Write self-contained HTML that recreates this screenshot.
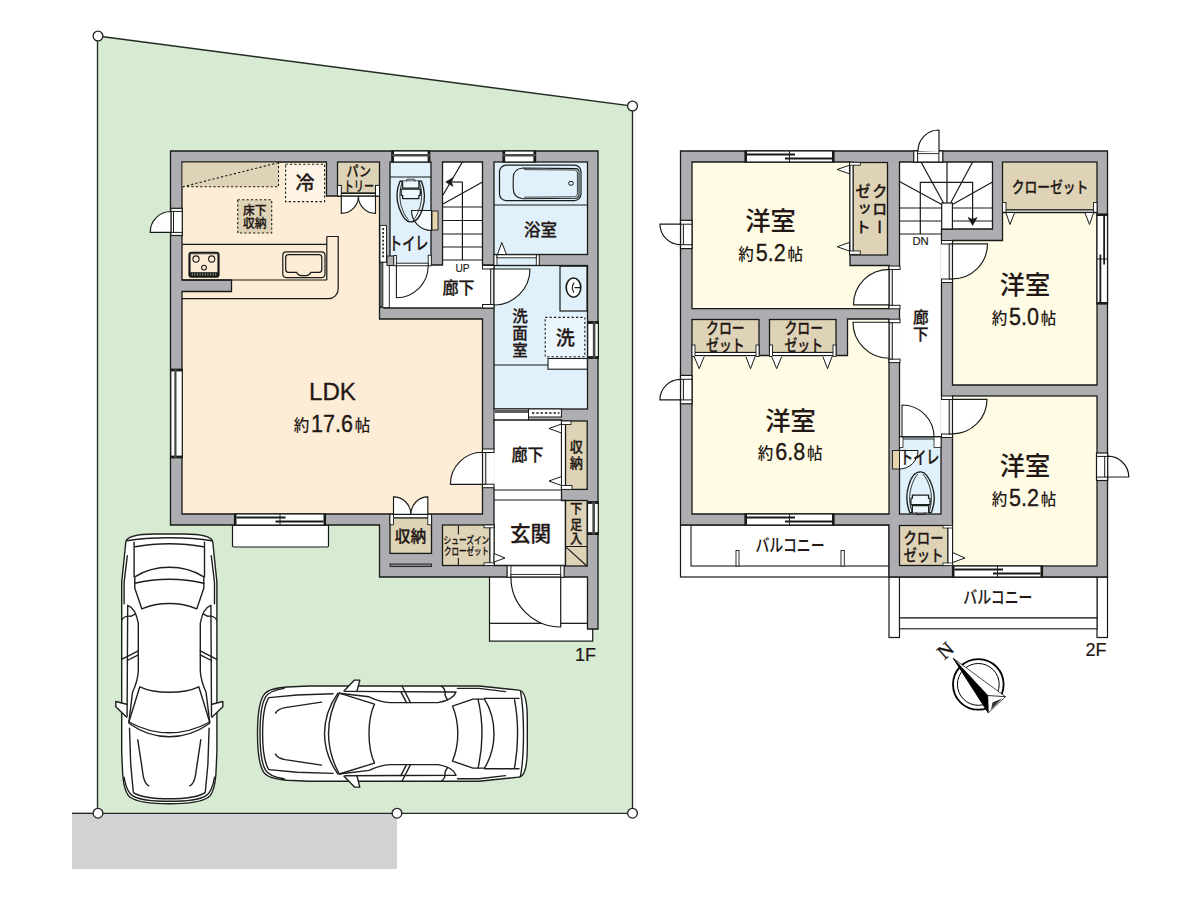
<!DOCTYPE html>
<html lang="ja"><head><meta charset="utf-8"><title>間取り図</title>
<style>html,body{margin:0;padding:0;background:#fff}body{width:1200px;height:900px;overflow:hidden}svg{display:block}</style>
</head><body>
<svg width="1200" height="900" viewBox="0 0 1200 900">
<rect x="72" y="813.4" width="325" height="55.6" fill="#d0d2d4" stroke="none" stroke-width="0" />
<polygon points="97.5,36 632.5,106 632.5,813.3 97.5,813.3" fill="#d6ebd1" stroke="#222c22" stroke-width="1.35" stroke-linejoin="miter" />
<line x1="72" y1="813.3" x2="98" y2="813.3" stroke="#222c22" stroke-width="1.35" />
<g id="f1">
<rect x="232.5" y="525" width="96.0" height="22" fill="#fff" stroke="#171a17" stroke-width="1.2" rx="1.2"/>
<rect x="489.5" y="623.3" width="103.2" height="17.8" fill="#fff" stroke="#171a17" stroke-width="1.2" />
<rect x="489.5" y="576" width="98.5" height="47.3" fill="#fff" stroke="#171a17" stroke-width="1.2" />
<polygon points="170.5,151 598,151 598,629 587.5,629 587.5,577 379.5,577 379.5,525 170.5,525" fill="#aeaeb2" stroke="#171a17" stroke-width="1.3" stroke-linejoin="miter" />
<polygon points="182,162 326.5,162 326.5,196 379.5,196 379.5,319 482.5,319 482.5,514 182,514 182,291.5 231.5,291.5 231.5,280 182,280" fill="#fdecd6" stroke="#171a17" stroke-width="1.3" stroke-linejoin="miter" />
<rect x="182.6" y="162.6" width="95.9" height="24.2" fill="#ded3b6" stroke="none" stroke-width="0" />
<path d="M182.6,186.8 L278.5,186.8 L278.5,162.6 M182.6,186.8 L278.5,162.6" fill="none" stroke="#171a17" stroke-width="1.1" stroke-dasharray="2.2 2.2"/>
<rect x="285.6" y="164.2" width="39.0" height="37.4" fill="#fdf4e6" stroke="#171a17" stroke-width="1.1" stroke-dasharray="2.2 2.2"/>
<rect x="337.5" y="162" width="42.0" height="31" fill="#ded3b6" stroke="#171a17" stroke-width="1.3" />
<rect x="337.5" y="193.5" width="42.0" height="2.5" fill="#fff" stroke="#171a17" stroke-width="1" />
<rect x="337.5" y="185.4" width="3.8" height="10.6" fill="#fff" stroke="#171a17" stroke-width="1" />
<rect x="375.5" y="185.4" width="4.0" height="10.6" fill="#fff" stroke="#171a17" stroke-width="1" />
<path d="M341.3,196 L341.3,213.4 A17.1,17.1 0 0 0 358.4,196.3 Z" fill="#fff" stroke="#171a17" stroke-width="1.15" />
<path d="M375.5,196 L375.5,213.4 A17.1,17.1 0 0 1 358.4,196.3 Z" fill="#fff" stroke="#171a17" stroke-width="1.15" />
<rect x="237.7" y="199.8" width="34.0" height="33.2" fill="#ded3b6" stroke="#171a17" stroke-width="1.1" stroke-dasharray="2.2 2.2"/>
<path d="M182,244.4 L326.8,244.4 M182,280 L326.8,280 M326.8,236.5 L326.8,280" fill="none" stroke="#171a17" stroke-width="1.2" />
<path d="M326.8,236.5 L338.2,236.5 L338.2,289 A9.7,9.7 0 0 1 328.5,298.7 L182,298.7" fill="none" stroke="#171a17" stroke-width="1.2" />
<rect x="189.4" y="252.8" width="29.2" height="24.0" fill="none" stroke="#171a17" stroke-width="2" rx="2"/>
<rect x="190.5" y="254" width="27.0" height="21.6" fill="none" stroke="#555" stroke-width="0.6" rx="1.2"/>
<rect x="190" y="272.2" width="28" height="4.4" fill="#171a17" stroke="none" stroke-width="0" />
<line x1="192.3" y1="273.3" x2="192.3" y2="275.6" stroke="#ccc" stroke-width="0.7" />
<line x1="194.9" y1="273.3" x2="194.9" y2="275.6" stroke="#ccc" stroke-width="0.7" />
<line x1="197.5" y1="273.3" x2="197.5" y2="275.6" stroke="#ccc" stroke-width="0.7" />
<line x1="200.10000000000002" y1="273.3" x2="200.10000000000002" y2="275.6" stroke="#ccc" stroke-width="0.7" />
<line x1="202.70000000000002" y1="273.3" x2="202.70000000000002" y2="275.6" stroke="#ccc" stroke-width="0.7" />
<line x1="205.3" y1="273.3" x2="205.3" y2="275.6" stroke="#ccc" stroke-width="0.7" />
<line x1="207.9" y1="273.3" x2="207.9" y2="275.6" stroke="#ccc" stroke-width="0.7" />
<line x1="210.5" y1="273.3" x2="210.5" y2="275.6" stroke="#ccc" stroke-width="0.7" />
<line x1="213.10000000000002" y1="273.3" x2="213.10000000000002" y2="275.6" stroke="#ccc" stroke-width="0.7" />
<line x1="215.70000000000002" y1="273.3" x2="215.70000000000002" y2="275.6" stroke="#ccc" stroke-width="0.7" />
<circle cx="196" cy="259" r="3.1" fill="none" stroke="#171a17" stroke-width="1.1"/>
<circle cx="211.7" cy="259" r="3.1" fill="none" stroke="#171a17" stroke-width="1.1"/>
<circle cx="204" cy="267.6" r="2.4" fill="none" stroke="#171a17" stroke-width="1.1"/>
<rect x="282.8" y="251.9" width="42.2" height="25.7" fill="none" stroke="#171a17" stroke-width="1.2" rx="3.5"/>
<path d="M288.5,254.6 L319,254.6 Q321.8,254.6 321.8,257.4 L321.8,269.6 Q321.8,272.4 319,272.4 L311,272.4 Q309,275.6 306.5,275.6 L301,275.6 Q298.5,275.6 296.5,272.4 L288.5,272.4 Q285.7,272.4 285.7,269.6 L285.7,257.4 Q285.7,254.6 288.5,254.6 Z" fill="none" stroke="#171a17" stroke-width="1.2" />
<rect x="170.8" y="208.3" width="11.5" height="27.2" fill="#fff" stroke="#171a17" stroke-width="1.2" />
<line x1="170.8" y1="211.4" x2="182.3" y2="211.4" stroke="#171a17" stroke-width="1" />
<line x1="170.8" y1="232.4" x2="182.3" y2="232.4" stroke="#171a17" stroke-width="1" />
<line x1="173.5" y1="211.4" x2="173.5" y2="232.4" stroke="#171a17" stroke-width="1" />
<path d="M171,232.3 L150.2,232.3 A20.8,20.8 0 0 1 171,211.5 Z" fill="#fff" stroke="#171a17" stroke-width="1.2" />
<rect x="170.8" y="369.2" width="11.5" height="88.6" fill="#fff" stroke="#171a17" stroke-width="1.2" />
<rect x="170.8" y="369.2" width="11.5" height="2.2" fill="#171a17" stroke="none" stroke-width="0" />
<rect x="170.8" y="455.6" width="11.5" height="2.2" fill="#171a17" stroke="none" stroke-width="0" />
<line x1="175.4" y1="369.2" x2="175.4" y2="457.8" stroke="#474a47" stroke-width="2.2" />
<rect x="234.5" y="514" width="91.0" height="11" fill="#fff" stroke="#171a17" stroke-width="1.2" />
<rect x="234.5" y="514" width="2.0" height="11" fill="#171a17" stroke="none" stroke-width="0" />
<rect x="323.5" y="514" width="2.0" height="11" fill="#171a17" stroke="none" stroke-width="0" />
<line x1="236.5" y1="517.52" x2="285.5" y2="517.52" stroke="#171a17" stroke-width="1.8" />
<line x1="275.5" y1="521.48" x2="323.5" y2="521.48" stroke="#171a17" stroke-width="1.8" />
<line x1="280.0" y1="514" x2="280.0" y2="525" stroke="#171a17" stroke-width="0.9" />
<rect x="390" y="162" width="41" height="103" fill="#e1f1fb" stroke="#171a17" stroke-width="1.3" />
<line x1="390" y1="177" x2="431" y2="177" stroke="#171a17" stroke-width="1.1" />
<rect x="391.8" y="151" width="38.0" height="11" fill="#fff" stroke="#171a17" stroke-width="1.2" />
<rect x="391.8" y="151" width="2.2" height="11" fill="#171a17" stroke="none" stroke-width="0" />
<rect x="427.6" y="151" width="2.2" height="11" fill="#171a17" stroke="none" stroke-width="0" />
<line x1="391.8" y1="155.18" x2="429.8" y2="155.18" stroke="#474a47" stroke-width="2.5" />
<polygon points="442.5,162 482.5,162 482.5,265 494,265 494,308 384,308 384,265 442.5,265" fill="#fff" stroke="#171a17" stroke-width="1.3" stroke-linejoin="miter" />
<rect x="380" y="225.4" width="6.5" height="36.9" fill="#fff" stroke="#171a17" stroke-width="0.9" />
<line x1="383.1" y1="228" x2="383.1" y2="259" stroke="#171a17" stroke-width="1.6" stroke-dasharray="2 1.9"/>
<rect x="379.8" y="262.3" width="9.5" height="45.3" fill="#fff" stroke="#171a17" stroke-width="0.9" />
<rect x="379.8" y="262.3" width="3.1" height="44.3" fill="#6f6f72" stroke="#171a17" stroke-width="0.8" />
<rect x="387" y="256" width="6.8" height="9.5" fill="#aeaeb2" stroke="#171a17" stroke-width="1" />
<rect x="393.8" y="255.5" width="2.6" height="10.3" fill="#fff" stroke="#171a17" stroke-width="0.9" />
<rect x="428.2" y="255.2" width="3.1" height="10.6" fill="#fff" stroke="#171a17" stroke-width="0.9" />
<rect x="396.4" y="263.2" width="31.8" height="2.6" fill="#fff" stroke="#171a17" stroke-width="0.9" />
<path d="M396.4,265.8 L396.4,297.8 A32,32 0 0 0 428.2,265.8" fill="none" stroke="#171a17" stroke-width="1.1" />
<path d="M411.5,210.5 L431.5,210.5 L431.5,230.5 A20,20 0 0 1 411.5,210.5 Z" fill="#f6fbfe" stroke="#171a17" stroke-width="1.1" />
<rect x="432" y="211" width="6" height="19" fill="#e6d4ae" stroke="#171a17" stroke-width="0.9" />
<g transform="translate(410.75,181.2)" fill="none" stroke="#1d211d" stroke-width="1.35" stroke-linejoin="round" stroke-linecap="round">
<path d="M-10.75,0 C-14.6,9 -14.3,19 -11.7,26.5 C-9,34 -5.5,40.3 -0.5,40.7 C5,41 9.3,36 11.8,27 C14.4,19 14.2,9 10.75,0 Z"/>
<path d="M-8.4,0.4 C-11.6,9 -11.4,18 -9.4,25 C-7.6,31 -5.4,35.5 -2.6,38.2 M8.4,0.4 C11.6,9 11.4,18 9.4,25 C7.6,31 5.6,35.5 3,38.2" stroke-width="0.9"/>
<path d="M-8.2,0 L-8.2,6.9 L8.2,6.9 L8.2,0" fill="#eef7fd"/>
<path d="M-9.6,7.9 L9.6,7.9 L9.6,13.8 L8.1,14.4 L8.1,17.4 L-8.1,17.4 L-8.1,14.4 L-9.6,13.8 Z" fill="#eef7fd"/>
<path d="M-4.4,0 L-3.8,-2 L3.8,-2 L4.4,0" stroke-width="0.8"/>
</g>
<line x1="443" y1="207" x2="482.5" y2="207" stroke="#171a17" stroke-width="1.2" />
<line x1="443" y1="220.5" x2="482.5" y2="220.5" stroke="#171a17" stroke-width="1.2" />
<line x1="443" y1="234" x2="482.5" y2="234" stroke="#171a17" stroke-width="1.2" />
<line x1="443" y1="247" x2="482.5" y2="247" stroke="#171a17" stroke-width="1.2" />
<line x1="443" y1="260" x2="482.5" y2="260" stroke="#171a17" stroke-width="1.2" />
<line x1="462.4" y1="182" x2="462.4" y2="260" stroke="#171a17" stroke-width="1.2" />
<line x1="452" y1="182" x2="462.4" y2="182" stroke="#171a17" stroke-width="1.2" />
<line x1="443" y1="195" x2="462.4" y2="162" stroke="#171a17" stroke-width="1.2" />
<line x1="443" y1="204" x2="482.5" y2="182" stroke="#171a17" stroke-width="1.2" />
<path d="M445.6,182 L453,177.6 L451.6,182 L453,186.4 Z" fill="#171a17" stroke="#171a17" stroke-width="0.5" />
<rect x="494" y="162" width="93.5" height="92.5" fill="#e1f1fb" stroke="#171a17" stroke-width="1.3" />
<rect x="503" y="151" width="32.6" height="11" fill="#fff" stroke="#171a17" stroke-width="1.2" />
<rect x="503" y="151" width="2.2" height="11" fill="#171a17" stroke="none" stroke-width="0" />
<rect x="533.4" y="151" width="2.2" height="11" fill="#171a17" stroke="none" stroke-width="0" />
<line x1="503" y1="155.18" x2="535.6" y2="155.18" stroke="#474a47" stroke-width="2.5" />
<rect x="499.5" y="165.2" width="81.5" height="35.4" fill="none" stroke="#171a17" stroke-width="1.2" rx="6.5"/>
<path d="M523,168 L575.5,168.6 Q579,168.8 579,172 L579,194.5 Q579,198 575.5,198.2 L523,198.8 Q513.2,198 513.2,188 L513.2,178 Q513.2,168.6 523,168 Z" fill="none" stroke="#171a17" stroke-width="1.1" />
<path d="M524,169.6 L574.5,170 Q577.4,170.2 577.4,173 L577.4,193.8 Q577.4,196.6 574.5,196.8 L524,197.2" fill="none" stroke="#171a17" stroke-width="0.8" />
<ellipse cx="571" cy="183.3" rx="2.4" ry="2" fill="none" stroke="#171a17" stroke-width="1"/>
<line x1="494" y1="205" x2="587.5" y2="205" stroke="#171a17" stroke-width="1.2" />
<rect x="494" y="254.5" width="45" height="11.0" fill="#e1f1fb" stroke="#171a17" stroke-width="1.1" />
<rect x="494" y="254.8" width="3" height="11.2" fill="#fff" stroke="#171a17" stroke-width="0.9" />
<rect x="536.3" y="254.8" width="2.9" height="11.2" fill="#fff" stroke="#171a17" stroke-width="0.9" />
<rect x="497" y="254.8" width="39.3" height="3.0" fill="#fff" stroke="#171a17" stroke-width="0.9" />
<path d="M497.5,254.5 L501.8,242.5 L506.5,254.5 Z" fill="#fff" stroke="#171a17" stroke-width="1" />
<rect x="494" y="265.5" width="93.5" height="143.5" fill="#e1f1fb" stroke="#171a17" stroke-width="1.3" />
<rect x="560" y="266.2" width="27" height="44.8" fill="#e1f1fb" stroke="#171a17" stroke-width="1.2" />
<ellipse cx="573.5" cy="287.6" rx="7.3" ry="9.6" fill="#fff" stroke="#171a17" stroke-width="1.6"/>
<path d="M574,282.6 Q570.6,287.6 574,292.6 M574.4,287.6 L580.6,287.6" fill="none" stroke="#171a17" stroke-width="1.1" />
<rect x="545.2" y="317.4" width="39.6" height="39.4" fill="#eaf5fc" stroke="#171a17" stroke-width="1.1" stroke-dasharray="2.2 2.2"/>
<line x1="494" y1="365" x2="548" y2="365" stroke="#171a17" stroke-width="1.2" />
<rect x="548" y="358.5" width="39.3" height="10.7" fill="#fff" stroke="#171a17" stroke-width="1.1" />
<rect x="587.7" y="321.7" width="10.7" height="36.6" fill="#fff" stroke="#171a17" stroke-width="1.2" />
<rect x="587.7" y="321.7" width="10.7" height="2.2" fill="#171a17" stroke="none" stroke-width="0" />
<rect x="587.7" y="356.1" width="10.7" height="2.2" fill="#171a17" stroke="none" stroke-width="0" />
<line x1="594.12" y1="321.7" x2="594.12" y2="358.3" stroke="#474a47" stroke-width="2.6" />
<rect x="481.6" y="265.5" width="12.4" height="42.5" fill="#fff" stroke="none" stroke-width="0" />
<rect x="482.5" y="265.5" width="11.5" height="3.5" fill="#fff" stroke="#171a17" stroke-width="1" />
<rect x="482.5" y="304.5" width="11.5" height="3.5" fill="#fff" stroke="#171a17" stroke-width="1" />
<rect x="490.7" y="269.0" width="3.3" height="35.5" fill="#ececee" stroke="#171a17" stroke-width="1" />
<path d="M494,269 L530,269 A36,36 0 0 1 494,305 Z" fill="#fff" stroke="#171a17" stroke-width="1.15" />
<rect x="494" y="409" width="34.5" height="11.5" fill="#fff" stroke="#171a17" stroke-width="1" />
<rect x="494.6" y="409.8" width="35.9" height="3.2" fill="#5a5c5e" stroke="none" stroke-width="0" />
<rect x="528.5" y="409" width="32.9" height="8" fill="#fff" stroke="#171a17" stroke-width="1" />
<line x1="532" y1="413" x2="559.5" y2="413" stroke="#171a17" stroke-width="1.5" stroke-dasharray="2.4 1.9"/>
<line x1="528.5" y1="417" x2="528.5" y2="420.5" stroke="#171a17" stroke-width="1" />
<polygon points="494,420 561.5,420 561.5,500.5 565.5,500.5 565.5,565.5 494,565.5" fill="#fff" stroke="#171a17" stroke-width="1.3" stroke-linejoin="miter" />
<line x1="494" y1="490" x2="561.5" y2="490" stroke="#171a17" stroke-width="1.1" />
<line x1="494" y1="500" x2="561.5" y2="500" stroke="#171a17" stroke-width="1.1" />
<rect x="561.5" y="421" width="4.0" height="68.4" fill="#fff" stroke="#171a17" stroke-width="1" />
<rect x="565.5" y="421" width="21.7" height="68.4" fill="#ded3b6" stroke="#171a17" stroke-width="1.3" />
<rect x="561.5" y="421" width="9.5" height="3.5" fill="#fff" stroke="#171a17" stroke-width="0.9" />
<rect x="561.5" y="485.5" width="10.5" height="3.9" fill="#fff" stroke="#171a17" stroke-width="0.9" />
<path d="M561.5,424 L549,428.5 L561.5,433 Z" fill="#fff" stroke="#171a17" stroke-width="1" />
<path d="M561.5,476.5 L549,481 L561.5,485.5 Z" fill="#fff" stroke="#171a17" stroke-width="1" />
<rect x="565.5" y="500.5" width="21.7" height="65.5" fill="#ded3b6" stroke="#171a17" stroke-width="1.3" />
<path d="M565.5,546.5 L587.2,546.5 M565.5,546.7 L586.9,566" fill="none" stroke="#171a17" stroke-width="1.1" />
<rect x="587.5" y="501.7" width="10.8" height="32.7" fill="#fff" stroke="#171a17" stroke-width="1.2" />
<rect x="587.5" y="501.7" width="10.8" height="2.2" fill="#171a17" stroke="none" stroke-width="0" />
<rect x="587.5" y="532.1999999999999" width="10.8" height="2.2" fill="#171a17" stroke="none" stroke-width="0" />
<line x1="593.656" y1="501.7" x2="593.656" y2="534.4" stroke="#474a47" stroke-width="2.6" />
<rect x="482.5" y="449" width="12.4" height="38.7" fill="#fff" stroke="none" stroke-width="0" />
<rect x="482.5" y="449" width="11.5" height="3.5" fill="#fff" stroke="#171a17" stroke-width="1" />
<rect x="482.5" y="484.2" width="11.5" height="3.5" fill="#fff" stroke="#171a17" stroke-width="1" />
<rect x="482.5" y="452.5" width="3.3" height="31.7" fill="#ececee" stroke="#171a17" stroke-width="1" />
<path d="M482.5,484.3 L450.4,484.3 A32,32 0 0 1 482.5,452.3 Z" fill="#fff" stroke="#171a17" stroke-width="1.15" />
<rect x="390" y="517.7" width="41.5" height="35.7" fill="#ded3b6" stroke="#171a17" stroke-width="1.3" />
<rect x="390" y="514.5" width="41.5" height="3.3" fill="#fff" stroke="#171a17" stroke-width="1" />
<rect x="390" y="514.3" width="3.5" height="10.5" fill="#fff" stroke="#171a17" stroke-width="0.9" />
<rect x="427.8" y="514.3" width="3.7" height="10.5" fill="#fff" stroke="#171a17" stroke-width="0.9" />
<path d="M393.5,514.3 L393.5,496.9 A17.4,17.4 0 0 1 410.9,514.3 Z" fill="#fff" stroke="#171a17" stroke-width="1.15" />
<path d="M427.8,514.3 L427.8,496.9 A16.9,17.4 0 0 0 410.9,514.3 Z" fill="#fff" stroke="#171a17" stroke-width="1.15" />
<rect x="390" y="564" width="41.5" height="2.6" fill="#858588" stroke="#171a17" stroke-width="0.9" />
<rect x="442.5" y="525" width="47.5" height="40.5" fill="#ded3b6" stroke="#171a17" stroke-width="1.3" />
<line x1="458.4" y1="525.5" x2="458.4" y2="534.5" stroke="#171a17" stroke-width="1.1" />
<line x1="458.4" y1="558" x2="458.4" y2="565.5" stroke="#171a17" stroke-width="1.1" />
<rect x="490" y="525" width="4" height="40.5" fill="#fff" stroke="#171a17" stroke-width="1" />
<rect x="484" y="525" width="10" height="2.8" fill="#fff" stroke="#171a17" stroke-width="0.9" />
<rect x="484" y="562.8" width="10" height="2.7" fill="#fff" stroke="#171a17" stroke-width="0.9" />
<path d="M494,553.5 L505,558 L494,562 Z" fill="#fff" stroke="#171a17" stroke-width="1" />
<rect x="507.2" y="565.8" width="56.8" height="11.4" fill="#fff" stroke="#171a17" stroke-width="1.1" />
<rect x="507.2" y="565.8" width="3.7" height="11.4" fill="#fff" stroke="#171a17" stroke-width="0.9" />
<rect x="560.7" y="565.8" width="3.3" height="11.4" fill="#fff" stroke="#171a17" stroke-width="0.9" />
<rect x="510.9" y="574.4" width="49.8" height="2.8" fill="#fff" stroke="#171a17" stroke-width="0.9" />
<path d="M560.7,577.2 L560.7,627 A49.8,49.8 0 0 1 510.9,577.2 Z" fill="#fff" stroke="#171a17" stroke-width="1.2" />
</g>
<g id="f2">
<rect x="680.5" y="525" width="208.5" height="52" fill="#fff" stroke="#171a17" stroke-width="1.2" />
<rect x="691" y="525" width="198" height="41" fill="#fff" stroke="#171a17" stroke-width="1.1" />
<rect x="736" y="550.5" width="3" height="15.5" fill="#fff" stroke="#171a17" stroke-width="0.9" />
<rect x="841" y="550.5" width="3.3" height="15.5" fill="#fff" stroke="#171a17" stroke-width="0.9" />
<rect x="889" y="577" width="10.5" height="60.5" fill="#fff" stroke="#171a17" stroke-width="1.2" />
<rect x="1097" y="577" width="10.5" height="60.5" fill="#fff" stroke="#171a17" stroke-width="1.2" />
<rect x="899.5" y="577" width="197.5" height="41" fill="#fff" stroke="#171a17" stroke-width="1.1" />
<rect x="899.5" y="618" width="197.5" height="10.8" fill="#fff" stroke="#171a17" stroke-width="1.1" />
<polygon points="680.5,151 1107.5,151 1107.5,577 889,577 889,525 680.5,525" fill="#aeaeb2" stroke="#171a17" stroke-width="1.3" stroke-linejoin="miter" />
<polygon points="692,162 850,162 850,265.5 889,265.5 889,308.6 692,308.6" fill="#fffbe4" stroke="#171a17" stroke-width="1.3" stroke-linejoin="miter" />
<rect x="853" y="162.5" width="34.5" height="92.5" fill="#ded3b6" stroke="#171a17" stroke-width="1.3" />
<rect x="850" y="162" width="3" height="93" fill="#fff" stroke="#171a17" stroke-width="1" />
<rect x="849.5" y="162.3" width="10.8" height="2.9" fill="#fff" stroke="#171a17" stroke-width="0.9" />
<rect x="849.5" y="251" width="10.8" height="3.3" fill="#fff" stroke="#171a17" stroke-width="0.9" />
<path d="M849.5,165.2 L837.2,169.5 L849.5,173.8 Z" fill="#fff" stroke="#171a17" stroke-width="1" />
<path d="M849.5,242.4 L837.2,246.75 L849.5,251 Z" fill="#fff" stroke="#171a17" stroke-width="1" />
<rect x="745" y="151" width="89" height="11" fill="#fff" stroke="#171a17" stroke-width="1.2" />
<rect x="745" y="151" width="2" height="11" fill="#171a17" stroke="none" stroke-width="0" />
<rect x="832" y="151" width="2" height="11" fill="#171a17" stroke="none" stroke-width="0" />
<line x1="747" y1="154.52" x2="795.0" y2="154.52" stroke="#171a17" stroke-width="1.8" />
<line x1="785.0" y1="158.48" x2="832" y2="158.48" stroke="#171a17" stroke-width="1.8" />
<line x1="789.5" y1="151" x2="789.5" y2="162" stroke="#171a17" stroke-width="0.9" />
<rect x="680.5" y="220.3" width="11.5" height="28.3" fill="#fff" stroke="#171a17" stroke-width="1.2" />
<line x1="680.5" y1="224.20000000000002" x2="692" y2="224.20000000000002" stroke="#171a17" stroke-width="1" />
<line x1="680.5" y1="244.7" x2="692" y2="244.7" stroke="#171a17" stroke-width="1" />
<line x1="683.4" y1="224.20000000000002" x2="683.4" y2="244.7" stroke="#171a17" stroke-width="1" />
<path d="M680.5,224.20000000000002 L660.0,224.20000000000002 A20.5,20.5 0 0 0 680.5,244.7 Z" fill="#fff" stroke="#171a17" stroke-width="1.2" />
<polygon points="899.5,162 992.5,162 992.5,229 941.5,229 941.5,437 899.5,437" fill="#fff" stroke="#171a17" stroke-width="1.3" stroke-linejoin="miter" />
<line x1="899.5" y1="208" x2="941.7" y2="208" stroke="#171a17" stroke-width="1.2" />
<line x1="952.4" y1="208" x2="992.5" y2="208" stroke="#171a17" stroke-width="1.2" />
<line x1="899.5" y1="221" x2="941.7" y2="221" stroke="#171a17" stroke-width="1.2" />
<line x1="952.4" y1="221" x2="992.5" y2="221" stroke="#171a17" stroke-width="1.2" />
<line x1="899.5" y1="234" x2="941.5" y2="234" stroke="#171a17" stroke-width="1.2" />
<path d="M920.3,234 L920.3,182.4 L972.6,182.4 L972.6,220" fill="none" stroke="#171a17" stroke-width="1.2" />
<path d="M972.6,225.5 L968,217.4 L972.6,219.2 L977.2,217.4 Z" fill="#171a17" stroke="#171a17" stroke-width="0.5" />
<line x1="941.7" y1="204.5" x2="899.5" y2="181.5" stroke="#171a17" stroke-width="1.2" />
<line x1="943.5" y1="203" x2="921" y2="162" stroke="#171a17" stroke-width="1.2" />
<line x1="947" y1="203" x2="947" y2="162" stroke="#171a17" stroke-width="1.2" />
<line x1="950.6" y1="203" x2="972.6" y2="162" stroke="#171a17" stroke-width="1.2" />
<line x1="952.4" y1="204.5" x2="992.5" y2="182" stroke="#171a17" stroke-width="1.2" />
<rect x="941.7" y="203" width="10.7" height="26" fill="#fff" stroke="#171a17" stroke-width="1.2" />
<rect x="913.8" y="151" width="28.9" height="11" fill="#fff" stroke="#171a17" stroke-width="1.2" />
<rect x="913.8" y="151" width="3.8" height="11" fill="#fff" stroke="#171a17" stroke-width="1" />
<rect x="938.9" y="151" width="3.8" height="11" fill="#fff" stroke="#171a17" stroke-width="1" />
<line x1="917.6" y1="153.6" x2="938.9" y2="153.6" stroke="#171a17" stroke-width="0.9" />
<path d="M939,152 L939,130 A21,21 0 0 0 918,151" fill="#fff" stroke="#171a17" stroke-width="1.2" />
<rect x="889" y="266" width="11.9" height="42.8" fill="#fff" stroke="none" stroke-width="0" />
<rect x="889" y="266" width="11" height="3.5" fill="#fff" stroke="#171a17" stroke-width="1" />
<rect x="889" y="305.3" width="11" height="3.5" fill="#fff" stroke="#171a17" stroke-width="1" />
<rect x="889" y="269.5" width="3.3" height="35.8" fill="#ececee" stroke="#171a17" stroke-width="1" />
<path d="M889,304.8 L853.5,304.8 A35.5,35.5 0 0 1 889,269.3 Z" fill="#fff" stroke="#171a17" stroke-width="1.15" />
<rect x="692" y="319.5" width="67" height="33.0" fill="#ded3b6" stroke="#171a17" stroke-width="1.3" />
<rect x="769.5" y="319.5" width="66.5" height="33.0" fill="#ded3b6" stroke="#171a17" stroke-width="1.3" />
<polygon points="692,355.5 847.5,355.5 847.5,319 889,319 889,514 692,514" fill="#fffbe4" stroke="#171a17" stroke-width="1.3" stroke-linejoin="miter" />
<rect x="692" y="352.5" width="67" height="3.0" fill="#fff" stroke="#171a17" stroke-width="1" />
<rect x="769.5" y="352.5" width="66.5" height="3.0" fill="#fff" stroke="#171a17" stroke-width="1" />
<rect x="692" y="345" width="3" height="11.5" fill="#fff" stroke="#171a17" stroke-width="0.9" />
<rect x="756" y="345" width="3" height="11.5" fill="#fff" stroke="#171a17" stroke-width="0.9" />
<path d="M694.2,356.6 L699.2,368.7 L704.2,356.6" fill="#fff" stroke="#171a17" stroke-width="1" />
<path d="M745.9,356.6 L750.5,368.7 L755.1,356.6" fill="#fff" stroke="#171a17" stroke-width="1" />
<rect x="769.5" y="345" width="3.0" height="11.5" fill="#fff" stroke="#171a17" stroke-width="0.9" />
<rect x="833" y="345" width="3" height="11.5" fill="#fff" stroke="#171a17" stroke-width="0.9" />
<path d="M771.7,356.6 L776.7,368.7 L781.7,356.6" fill="#fff" stroke="#171a17" stroke-width="1" />
<path d="M822.9,356.6 L827.5,368.7 L832.1,356.6" fill="#fff" stroke="#171a17" stroke-width="1" />
<rect x="680.5" y="375.4" width="11.5" height="28.4" fill="#fff" stroke="#171a17" stroke-width="1.2" />
<line x1="680.5" y1="379.29999999999995" x2="692" y2="379.29999999999995" stroke="#171a17" stroke-width="1" />
<line x1="680.5" y1="399.90000000000003" x2="692" y2="399.90000000000003" stroke="#171a17" stroke-width="1" />
<line x1="683.4" y1="379.29999999999995" x2="683.4" y2="399.90000000000003" stroke="#171a17" stroke-width="1" />
<path d="M680.5,399.90000000000003 L659.9,399.90000000000003 A20.6,20.6 0 0 1 680.5,379.29999999999995 Z" fill="#fff" stroke="#171a17" stroke-width="1.2" />
<rect x="745" y="514" width="89" height="11" fill="#fff" stroke="#171a17" stroke-width="1.2" />
<rect x="745" y="514" width="2" height="11" fill="#171a17" stroke="none" stroke-width="0" />
<rect x="832" y="514" width="2" height="11" fill="#171a17" stroke="none" stroke-width="0" />
<line x1="747" y1="517.52" x2="795.0" y2="517.52" stroke="#171a17" stroke-width="1.8" />
<line x1="785.0" y1="521.48" x2="832" y2="521.48" stroke="#171a17" stroke-width="1.8" />
<line x1="789.5" y1="514" x2="789.5" y2="525" stroke="#171a17" stroke-width="0.9" />
<rect x="889" y="319.2" width="11.9" height="43.4" fill="#fff" stroke="none" stroke-width="0" />
<rect x="889" y="319.2" width="11" height="3.5" fill="#fff" stroke="#171a17" stroke-width="1" />
<rect x="889" y="359.1" width="11" height="3.5" fill="#fff" stroke="#171a17" stroke-width="1" />
<rect x="889" y="322.7" width="3.3" height="36.4" fill="#ececee" stroke="#171a17" stroke-width="1" />
<path d="M889,322.2 L853,322.2 A36,36 0 0 0 889,358.2 Z" fill="#fff" stroke="#171a17" stroke-width="1.15" />
<rect x="1002.5" y="162" width="94.5" height="48" fill="#ded3b6" stroke="#171a17" stroke-width="1.3" />
<rect x="1002.5" y="210" width="94.5" height="2.5" fill="#fff" stroke="#171a17" stroke-width="1" />
<rect x="1002.5" y="202.5" width="3.5" height="10.5" fill="#fff" stroke="#171a17" stroke-width="0.9" />
<rect x="1093.5" y="202.5" width="3.5" height="10.5" fill="#fff" stroke="#171a17" stroke-width="0.9" />
<polygon points="1002.5,212.5 1097,212.5 1097,385 952.5,385 952.5,240.5 1002.5,240.5" fill="#fffbe4" stroke="#171a17" stroke-width="1.3" stroke-linejoin="miter" />
<path d="M1006,213 L1010,224.5 L1014.5,213" fill="#fff" stroke="#171a17" stroke-width="1" />
<path d="M1085,213 L1089.5,224.5 L1093.5,213" fill="#fff" stroke="#171a17" stroke-width="1" />
<rect x="1097" y="214" width="10.5" height="90" fill="#fff" stroke="#171a17" stroke-width="1.2" />
<rect x="1097" y="214" width="10.5" height="2" fill="#171a17" stroke="none" stroke-width="0" />
<rect x="1097" y="302" width="10.5" height="2" fill="#171a17" stroke="none" stroke-width="0" />
<line x1="1104.14" y1="216" x2="1104.14" y2="264.5" stroke="#171a17" stroke-width="1.8" />
<line x1="1100.36" y1="254.5" x2="1100.36" y2="302" stroke="#171a17" stroke-width="1.8" />
<line x1="1097" y1="259.0" x2="1107.5" y2="259.0" stroke="#171a17" stroke-width="0.9" />
<rect x="940.6" y="240.5" width="11.9" height="42.0" fill="#fff" stroke="none" stroke-width="0" />
<rect x="941.5" y="240.5" width="11.0" height="3.5" fill="#fff" stroke="#171a17" stroke-width="1" />
<rect x="941.5" y="279.0" width="11.0" height="3.5" fill="#fff" stroke="#171a17" stroke-width="1" />
<rect x="949.2" y="244.0" width="3.3" height="35.0" fill="#ececee" stroke="#171a17" stroke-width="1" />
<path d="M952.5,243.8 L987.5,243.8 A35,35 0 0 1 952.5,278.8 Z" fill="#fff" stroke="#171a17" stroke-width="1.15" />
<rect x="952.5" y="396" width="144.5" height="170" fill="#fffbe4" stroke="#171a17" stroke-width="1.3" />
<rect x="940.6" y="396" width="11.9" height="41.5" fill="#fff" stroke="none" stroke-width="0" />
<rect x="941.5" y="396" width="11.0" height="3.5" fill="#fff" stroke="#171a17" stroke-width="1" />
<rect x="941.5" y="434.0" width="11.0" height="3.5" fill="#fff" stroke="#171a17" stroke-width="1" />
<rect x="949.2" y="399.5" width="3.3" height="34.5" fill="#ececee" stroke="#171a17" stroke-width="1" />
<path d="M952.5,399.3 L987,399.3 A34.5,34.5 0 0 1 952.5,433.8 Z" fill="#fff" stroke="#171a17" stroke-width="1.15" />
<rect x="952.5" y="566" width="90.0" height="11" fill="#fff" stroke="#171a17" stroke-width="1.2" />
<rect x="952.5" y="566" width="2.0" height="11" fill="#171a17" stroke="none" stroke-width="0" />
<rect x="1040.5" y="566" width="2.0" height="11" fill="#171a17" stroke="none" stroke-width="0" />
<line x1="954.5" y1="569.52" x2="1003.0" y2="569.52" stroke="#171a17" stroke-width="1.8" />
<line x1="993.0" y1="573.48" x2="1040.5" y2="573.48" stroke="#171a17" stroke-width="1.8" />
<line x1="997.5" y1="566" x2="997.5" y2="577" stroke="#171a17" stroke-width="0.9" />
<rect x="1096.5" y="453" width="11.2" height="27.5" fill="#fff" stroke="#171a17" stroke-width="1.2" />
<line x1="1096.5" y1="456.4" x2="1107.7" y2="456.4" stroke="#171a17" stroke-width="1" />
<line x1="1096.5" y1="477.1" x2="1107.7" y2="477.1" stroke="#171a17" stroke-width="1" />
<line x1="1104.7" y1="456.4" x2="1104.7" y2="477.1" stroke="#171a17" stroke-width="1" />
<path d="M1107.7,477 L1128.8,477 A21,21 0 0 0 1107.7,456.2 Z" fill="#fff" stroke="#171a17" stroke-width="1.2" />
<rect x="899.5" y="437" width="41.5" height="77" fill="#e1f1fb" stroke="#171a17" stroke-width="1.3" />
<rect x="899.5" y="437" width="3.5" height="10.5" fill="#fff" stroke="#171a17" stroke-width="0.8" />
<rect x="934" y="437" width="7" height="10.5" fill="#fff" stroke="#171a17" stroke-width="0.8" />
<line x1="903" y1="439" x2="934" y2="439" stroke="#171a17" stroke-width="0.9" />
<path d="M902,437 L902,405 A32,32 0 0 1 934,437" fill="none" stroke="#171a17" stroke-width="1.1" />
<rect x="892.5" y="450.5" width="7.0" height="18.5" fill="#e6d4ae" stroke="#171a17" stroke-width="0.9" />
<path d="M899.5,450.5 L918,450.5 A18.5,18.5 0 0 1 899.5,469 Z" fill="#f6fbfe" stroke="#171a17" stroke-width="1" />
<g transform="translate(920.5,512.6) rotate(180)" fill="none" stroke="#1d211d" stroke-width="1.35" stroke-linejoin="round" stroke-linecap="round">
<path d="M-10.75,0 C-14.6,9 -14.3,19 -11.7,26.5 C-9,34 -5.5,40.3 -0.5,40.7 C5,41 9.3,36 11.8,27 C14.4,19 14.2,9 10.75,0 Z"/>
<path d="M-8.4,0.4 C-11.6,9 -11.4,18 -9.4,25 C-7.6,31 -5.4,35.5 -2.6,38.2 M8.4,0.4 C11.6,9 11.4,18 9.4,25 C7.6,31 5.6,35.5 3,38.2" stroke-width="0.9"/>
<path d="M-8.2,0 L-8.2,6.9 L8.2,6.9 L8.2,0" fill="#eef7fd"/>
<path d="M-9.6,7.9 L9.6,7.9 L9.6,13.8 L8.1,14.4 L8.1,17.4 L-8.1,17.4 L-8.1,14.4 L-9.6,13.8 Z" fill="#eef7fd"/>
<path d="M-4.4,0 L-3.8,-2 L3.8,-2 L4.4,0" stroke-width="0.8"/>
</g>
<rect x="899.5" y="525.5" width="48.5" height="40.0" fill="#ded3b6" stroke="#171a17" stroke-width="1.3" />
<rect x="948" y="525.5" width="4.5" height="40.0" fill="#fff" stroke="#171a17" stroke-width="1" />
<rect x="943" y="525.5" width="9.5" height="2.5" fill="#fff" stroke="#171a17" stroke-width="0.8" />
<rect x="943" y="563" width="9.5" height="2.5" fill="#fff" stroke="#171a17" stroke-width="0.8" />
<path d="M952.5,552.5 L965,558 L952.5,562.5 Z" fill="#fff" stroke="#171a17" stroke-width="1" />
</g>

<g transform="translate(257,733.6)" fill="none" stroke="#1d211d" stroke-width="1.4" stroke-linejoin="round" stroke-linecap="round">
<path fill="#fff" d="M0.5,0 C0.5,-20 2,-32 7,-39 C10,-43.5 18,-45.6 30,-46.6 L52,-47.6 L222,-47.6 L262,-43.5 C268,-43 270.3,-30 270.3,-14 L270.3,14 C270.3,30 268,43 262,43.5 L222,47.6 L52,47.6 L30,46.6 C18,45.6 10,43.5 7,39 C2,32 0.5,20 0.5,0 Z"/>
<path d="M3,0 C3,-18 4.5,-30 8.5,-36.5 C11,-41 17,-43.5 27,-45.2 M3,0 C3,18 4.5,30 8.5,36.5 C11,41 17,43.5 27,45.2"/>
<path d="M5.6,0 C5.6,-16 7,-28 11.5,-35.5 M5.6,0 C5.6,16 7,28 11.5,35.5"/>
<path d="M11.5,-35.5 C17,-31 20,-25 22,-36.6 L40,-38.5 L75,-40 M11.5,35.5 C17,31 20,25 22,36.6 L40,38.5 L75,40" stroke="none"/>
<path d="M12,-36 L40,-38.6 L76,-39.8 M12,36 L40,38.6 L76,39.8"/>
<path d="M18.5,-20.5 C20,-23.5 23,-25 28,-26 L64.5,-31.5 M18.5,20.5 C20,23.5 23,25 28,26 L64.5,31.5"/>
<path d="M80.8,-40.2 C71.5,-27 67.5,-14 67.5,0 C67.5,14 71.5,27 80.8,40.2"/>
<path d="M82.3,-40.4 C75,-27 71.5,-14 71.5,0 C71.5,14 75,27 82.3,40.4"/>
<path d="M82.3,-40.4 L117.5,-29.5 C113,-20 112,-10 112,0 C112,10 113,20 117.5,29.5 L82.3,40.4"/>
<path d="M87,-42.6 L97.5,-53.5 L102.8,-53.5 L100,-42.6 M87,42.6 L97.5,53.5 L102.8,53.5 L100,42.6" fill="#fff"/>
<path d="M88,-42.2 L199,-41.6 C197,-36 190,-32.5 181,-31 L133,-31 C125,-31.5 120,-33 112,-36.8 L82.3,-40.4"/>
<path d="M88,42.2 L199,41.6 C197,36 190,32.5 181,31 L133,31 C125,31.5 120,33 112,36.8 L82.3,40.4"/>
<path d="M145,-47.6 L153.5,-31 M143.8,-42 L149.5,-31 M145,47.6 L153.5,31 M143.8,42 L149.5,31"/>
<path d="M184.5,-47.4 C188,-45 188.5,-42 188,-38.5 L190.5,-33.8 M184.5,47.4 C188,45 188.5,42 188,38.5 L190.5,33.8"/>
<path d="M195.5,-27.5 L216,-34.5 L227.5,-34.5 C234,-24 237,-12 237,0 C237,12 234,24 227.5,34.5 L216,34.5 L195.5,27.5 C199.5,18 200.8,9 200.8,0 C200.8,-9 199.5,-18 195.5,-27.5 Z"/>
<path d="M221,-34.5 C224,-22 225,-11 225,0 C225,11 224,22 221,34.5"/>
<path d="M227.5,-35.2 L262,-35.2 M227.5,35.2 L262,35.2"/>
<path d="M257.5,-34 C259.8,-22 260.6,-11 260.6,0 C260.6,11 259.8,22 257.5,34"/>
<path d="M263.5,-42.5 C265.8,-30 266.5,-15 266.5,0 C266.5,15 265.8,30 263.5,42.5"/>
<path d="M200.5,-45.2 L222,-45.2 L248.5,-42 M200.5,45.2 L222,45.2 L248.5,42"/>
</g>

<g transform="translate(169.3,804.3) rotate(-90)" fill="none" stroke="#1d211d" stroke-width="1.4" stroke-linejoin="round" stroke-linecap="round">
<path fill="#fff" d="M0.5,0 C0.5,-20 2,-32 7,-39 C10,-43.5 18,-45.6 30,-46.6 L52,-47.6 L222,-47.6 L262,-43.5 C268,-43 270.3,-30 270.3,-14 L270.3,14 C270.3,30 268,43 262,43.5 L222,47.6 L52,47.6 L30,46.6 C18,45.6 10,43.5 7,39 C2,32 0.5,20 0.5,0 Z"/>
<path d="M3,0 C3,-18 4.5,-30 8.5,-36.5 C11,-41 17,-43.5 27,-45.2 M3,0 C3,18 4.5,30 8.5,36.5 C11,41 17,43.5 27,45.2"/>
<path d="M5.6,0 C5.6,-16 7,-28 11.5,-35.5 M5.6,0 C5.6,16 7,28 11.5,35.5"/>
<path d="M11.5,-35.5 C17,-31 20,-25 22,-36.6 L40,-38.5 L75,-40 M11.5,35.5 C17,31 20,25 22,36.6 L40,38.5 L75,40" stroke="none"/>
<path d="M12,-36 L40,-38.6 L76,-39.8 M12,36 L40,38.6 L76,39.8"/>
<path d="M18.5,-20.5 C20,-23.5 23,-25 28,-26 L64.5,-31.5 M18.5,20.5 C20,23.5 23,25 28,26 L64.5,31.5"/>
<path d="M80.8,-40.2 C71.5,-27 67.5,-14 67.5,0 C67.5,14 71.5,27 80.8,40.2"/>
<path d="M82.3,-40.4 C75,-27 71.5,-14 71.5,0 C71.5,14 75,27 82.3,40.4"/>
<path d="M82.3,-40.4 L117.5,-29.5 C113,-20 112,-10 112,0 C112,10 113,20 117.5,29.5 L82.3,40.4"/>
<path d="M87,-42.6 L97.5,-53.5 L102.8,-53.5 L100,-42.6 M87,42.6 L97.5,53.5 L102.8,53.5 L100,42.6" fill="#fff"/>
<path d="M88,-42.2 L199,-41.6 C197,-36 190,-32.5 181,-31 L133,-31 C125,-31.5 120,-33 112,-36.8 L82.3,-40.4"/>
<path d="M88,42.2 L199,41.6 C197,36 190,32.5 181,31 L133,31 C125,31.5 120,33 112,36.8 L82.3,40.4"/>
<path d="M145,-47.6 L153.5,-31 M143.8,-42 L149.5,-31 M145,47.6 L153.5,31 M143.8,42 L149.5,31"/>
<path d="M184.5,-47.4 C188,-45 188.5,-42 188,-38.5 L190.5,-33.8 M184.5,47.4 C188,45 188.5,42 188,38.5 L190.5,33.8"/>
<path d="M195.5,-27.5 L216,-34.5 L227.5,-34.5 C234,-24 237,-12 237,0 C237,12 234,24 227.5,34.5 L216,34.5 L195.5,27.5 C199.5,18 200.8,9 200.8,0 C200.8,-9 199.5,-18 195.5,-27.5 Z"/>
<path d="M221,-34.5 C224,-22 225,-11 225,0 C225,11 224,22 221,34.5"/>
<path d="M227.5,-35.2 L262,-35.2 M227.5,35.2 L262,35.2"/>
<path d="M257.5,-34 C259.8,-22 260.6,-11 260.6,0 C260.6,11 259.8,22 257.5,34"/>
<path d="M263.5,-42.5 C265.8,-30 266.5,-15 266.5,0 C266.5,15 265.8,30 263.5,42.5"/>
<path d="M200.5,-45.2 L222,-45.2 L248.5,-42 M200.5,45.2 L222,45.2 L248.5,42"/>
</g>
<circle cx="98" cy="36" r="4.9" fill="#fff" stroke="#222" stroke-width="1.3"/>
<circle cx="632.5" cy="106" r="4.9" fill="#fff" stroke="#222" stroke-width="1.3"/>
<circle cx="632.5" cy="813.2" r="4.9" fill="#fff" stroke="#222" stroke-width="1.3"/>
<circle cx="397" cy="813.2" r="4.9" fill="#fff" stroke="#222" stroke-width="1.3"/>
<circle cx="98" cy="813.2" r="4.9" fill="#fff" stroke="#222" stroke-width="1.3"/>
<circle cx="978.3" cy="684.4" r="25.3" fill="none" stroke="#000" stroke-width="1.8"/>
<circle cx="978.3" cy="684.4" r="20.9" fill="none" stroke="#000" stroke-width="1.0"/>
<path d="M953.3,658.3 L1005.5,696.7 L988.3,712.8 Z" fill="#fff" stroke="#000" stroke-width="0.7" />
<path d="M953.3,658.3 L987.8,695.5 L988.3,712.8 Z" fill="#000" stroke="#000" stroke-width="0.7" />
<path d="M987.8,695.5 L1005.5,696.7" fill="none" stroke="#000" stroke-width="0.8" />
<path d="M1002,698.5 L992.5,702.5 L991,709.5 Z" fill="#333" stroke="none" stroke-width="0" />
<text transform="translate(945.4,650.4) rotate(-42)" font-family='"Liberation Serif",serif' font-size="20" text-anchor="middle" fill="#111" stroke="#111" stroke-width="0.35" y="6.6">N</text>
<text transform="translate(332.5,400) scale(1.04,1)" font-family='"Liberation Sans","Noto Sans CJK JP",sans-serif' font-size="23.2" font-weight="400" text-anchor="middle" fill="#231815" stroke="#231815" stroke-width="0.3" stroke-linejoin="round" >LDK</text>
<text transform="translate(301.42212,430.90000000000003) scale(0.97,1)" font-family='"Liberation Sans","Noto Sans CJK JP",sans-serif' font-size="16" font-weight="500" text-anchor="middle" fill="#231815"  >約</text>
<text transform="translate(332.0,431.8) scale(0.88,1)" font-family='"Liberation Sans","Noto Sans CJK JP",sans-serif' font-size="24.5" font-weight="400" text-anchor="middle" fill="#231815" stroke="#231815" stroke-width="0.35" stroke-linejoin="round" >17.6</text>
<text transform="translate(362.57788,430.90000000000003) scale(0.97,1)" font-family='"Liberation Sans","Noto Sans CJK JP",sans-serif' font-size="16" font-weight="500" text-anchor="middle" fill="#231815"  >帖</text>
<text transform="translate(305,190) scale(1.0,1)" font-family='"Liberation Sans","Noto Sans CJK JP",sans-serif' font-size="19" font-weight="500" text-anchor="middle" fill="#231815" stroke="#231815" stroke-width="0.28" stroke-linejoin="round" >冷</text>
<text transform="translate(358.8,176.2) scale(0.86,1)" font-family='"Liberation Sans","Noto Sans CJK JP",sans-serif' font-size="14" font-weight="500" text-anchor="middle" fill="#231815" stroke="#231815" stroke-width="0.28" stroke-linejoin="round" >パン</text>
<text transform="translate(358.9,191.3) scale(0.72,1)" font-family='"Liberation Sans","Noto Sans CJK JP",sans-serif' font-size="14" font-weight="500" text-anchor="middle" fill="#231815" stroke="#231815" stroke-width="0.28" stroke-linejoin="round" >トリー</text>
<text transform="translate(254.8,215) scale(0.95,1)" font-family='"Liberation Sans","Noto Sans CJK JP",sans-serif' font-size="12.4" font-weight="500" text-anchor="middle" fill="#231815" stroke="#231815" stroke-width="0.28" stroke-linejoin="round" >床下</text>
<text transform="translate(254.8,227.8) scale(0.95,1)" font-family='"Liberation Sans","Noto Sans CJK JP",sans-serif' font-size="12.4" font-weight="500" text-anchor="middle" fill="#231815" stroke="#231815" stroke-width="0.28" stroke-linejoin="round" >収納</text>
<text transform="translate(408.7,250.2) scale(0.73,1)" font-family='"Liberation Sans","Noto Sans CJK JP",sans-serif' font-size="18" font-weight="500" text-anchor="middle" fill="#231815" stroke="#231815" stroke-width="0.28" stroke-linejoin="round" >トイレ</text>
<text transform="translate(462.5,272.4) scale(1,1)" font-family='"Liberation Sans","Noto Sans CJK JP",sans-serif' font-size="10.2" font-weight="400" text-anchor="middle" fill="#231815" stroke="#231815" stroke-width="0.15" stroke-linejoin="round" >UP</text>
<text transform="translate(458.5,294) scale(0.97,1)" font-family='"Liberation Sans","Noto Sans CJK JP",sans-serif' font-size="16.5" font-weight="500" text-anchor="middle" fill="#231815" stroke="#231815" stroke-width="0.28" stroke-linejoin="round" >廊下</text>
<text transform="translate(540.5,235.8) scale(1,1)" font-family='"Liberation Sans","Noto Sans CJK JP",sans-serif' font-size="16.5" font-weight="500" text-anchor="middle" fill="#231815" stroke="#231815" stroke-width="0.28" stroke-linejoin="round" >浴室</text>
<text transform="translate(520,321.6) scale(1,1)" font-family='"Liberation Sans","Noto Sans CJK JP",sans-serif' font-size="15.5" font-weight="500" text-anchor="middle" fill="#231815" stroke="#231815" stroke-width="0.28" stroke-linejoin="round" >洗</text>
<text transform="translate(520,338.8) scale(1,1)" font-family='"Liberation Sans","Noto Sans CJK JP",sans-serif' font-size="15.5" font-weight="500" text-anchor="middle" fill="#231815" stroke="#231815" stroke-width="0.28" stroke-linejoin="round" >面</text>
<text transform="translate(520,356) scale(1,1)" font-family='"Liberation Sans","Noto Sans CJK JP",sans-serif' font-size="15.5" font-weight="500" text-anchor="middle" fill="#231815" stroke="#231815" stroke-width="0.28" stroke-linejoin="round" >室</text>
<text transform="translate(565.3,344.5) scale(1,1)" font-family='"Liberation Sans","Noto Sans CJK JP",sans-serif' font-size="19" font-weight="500" text-anchor="middle" fill="#231815" stroke="#231815" stroke-width="0.28" stroke-linejoin="round" >洗</text>
<text transform="translate(527.5,461) scale(0.97,1)" font-family='"Liberation Sans","Noto Sans CJK JP",sans-serif' font-size="16.5" font-weight="500" text-anchor="middle" fill="#231815" stroke="#231815" stroke-width="0.28" stroke-linejoin="round" >廊下</text>
<text transform="translate(576.3,452.3) scale(0.94,1)" font-family='"Liberation Sans","Noto Sans CJK JP",sans-serif' font-size="14" font-weight="500" text-anchor="middle" fill="#231815" stroke="#231815" stroke-width="0.28" stroke-linejoin="round" >収</text>
<text transform="translate(576.3,468.3) scale(0.94,1)" font-family='"Liberation Sans","Noto Sans CJK JP",sans-serif' font-size="14" font-weight="500" text-anchor="middle" fill="#231815" stroke="#231815" stroke-width="0.28" stroke-linejoin="round" >納</text>
<text transform="translate(410.5,541.5) scale(0.98,1)" font-family='"Liberation Sans","Noto Sans CJK JP",sans-serif' font-size="16" font-weight="500" text-anchor="middle" fill="#231815" stroke="#231815" stroke-width="0.28" stroke-linejoin="round" >収納</text>
<text transform="translate(466.4,544.3) scale(0.77,1)" font-family='"Liberation Sans","Noto Sans CJK JP",sans-serif' font-size="10" font-weight="500" text-anchor="middle" fill="#231815" stroke="#231815" stroke-width="0.28" stroke-linejoin="round" >シューズイン</text>
<text transform="translate(466.4,555.2) scale(0.75,1)" font-family='"Liberation Sans","Noto Sans CJK JP",sans-serif' font-size="10" font-weight="500" text-anchor="middle" fill="#231815" stroke="#231815" stroke-width="0.28" stroke-linejoin="round" >クローゼット</text>
<text transform="translate(530.5,541) scale(0.98,1)" font-family='"Liberation Sans","Noto Sans CJK JP",sans-serif' font-size="21" font-weight="500" text-anchor="middle" fill="#231815" stroke="#231815" stroke-width="0.28" stroke-linejoin="round" >玄関</text>
<text transform="translate(576.2,512.8) scale(0.95,1)" font-family='"Liberation Sans","Noto Sans CJK JP",sans-serif' font-size="13" font-weight="500" text-anchor="middle" fill="#231815" stroke="#231815" stroke-width="0.28" stroke-linejoin="round" >下</text>
<text transform="translate(576.2,529.2) scale(0.95,1)" font-family='"Liberation Sans","Noto Sans CJK JP",sans-serif' font-size="13" font-weight="500" text-anchor="middle" fill="#231815" stroke="#231815" stroke-width="0.28" stroke-linejoin="round" >足</text>
<text transform="translate(576.2,543.2) scale(0.95,1)" font-family='"Liberation Sans","Noto Sans CJK JP",sans-serif' font-size="13" font-weight="500" text-anchor="middle" fill="#231815" stroke="#231815" stroke-width="0.28" stroke-linejoin="round" >入</text>
<text transform="translate(585.5,661.3) scale(1,1)" font-family='"Liberation Sans","Noto Sans CJK JP",sans-serif' font-size="18" font-weight="400" text-anchor="middle" fill="#231815" stroke="#231815" stroke-width="0.2" stroke-linejoin="round" >1F</text>
<text transform="translate(770.5,229.5) scale(1.0,1)" font-family='"Liberation Sans","Noto Sans CJK JP",sans-serif' font-size="25.2" font-weight="500" text-anchor="middle" fill="#231815" stroke="#231815" stroke-width="0.1" stroke-linejoin="round" >洋室</text>
<text transform="translate(746.1158,259.90000000000003) scale(0.97,1)" font-family='"Liberation Sans","Noto Sans CJK JP",sans-serif' font-size="16" font-weight="500" text-anchor="middle" fill="#231815"  >約</text>
<text transform="translate(770.7,260.8) scale(0.88,1)" font-family='"Liberation Sans","Noto Sans CJK JP",sans-serif' font-size="24.5" font-weight="400" text-anchor="middle" fill="#231815" stroke="#231815" stroke-width="0.35" stroke-linejoin="round" >5.2</text>
<text transform="translate(795.2842,259.90000000000003) scale(0.97,1)" font-family='"Liberation Sans","Noto Sans CJK JP",sans-serif' font-size="16" font-weight="500" text-anchor="middle" fill="#231815"  >帖</text>
<text transform="translate(1025,293.5) scale(1.0,1)" font-family='"Liberation Sans","Noto Sans CJK JP",sans-serif' font-size="25.2" font-weight="500" text-anchor="middle" fill="#231815" stroke="#231815" stroke-width="0.1" stroke-linejoin="round" >洋室</text>
<text transform="translate(999.4158,323.90000000000003) scale(0.97,1)" font-family='"Liberation Sans","Noto Sans CJK JP",sans-serif' font-size="16" font-weight="500" text-anchor="middle" fill="#231815"  >約</text>
<text transform="translate(1024.0,324.8) scale(0.88,1)" font-family='"Liberation Sans","Noto Sans CJK JP",sans-serif' font-size="24.5" font-weight="400" text-anchor="middle" fill="#231815" stroke="#231815" stroke-width="0.35" stroke-linejoin="round" >5.0</text>
<text transform="translate(1048.5842,323.90000000000003) scale(0.97,1)" font-family='"Liberation Sans","Noto Sans CJK JP",sans-serif' font-size="16" font-weight="500" text-anchor="middle" fill="#231815"  >帖</text>
<text transform="translate(790.5,429.5) scale(1.0,1)" font-family='"Liberation Sans","Noto Sans CJK JP",sans-serif' font-size="25.2" font-weight="500" text-anchor="middle" fill="#231815" stroke="#231815" stroke-width="0.1" stroke-linejoin="round" >洋室</text>
<text transform="translate(765.6158,458.90000000000003) scale(0.97,1)" font-family='"Liberation Sans","Noto Sans CJK JP",sans-serif' font-size="16" font-weight="500" text-anchor="middle" fill="#231815"  >約</text>
<text transform="translate(790.2,459.8) scale(0.88,1)" font-family='"Liberation Sans","Noto Sans CJK JP",sans-serif' font-size="24.5" font-weight="400" text-anchor="middle" fill="#231815" stroke="#231815" stroke-width="0.35" stroke-linejoin="round" >6.8</text>
<text transform="translate(814.7842,458.90000000000003) scale(0.97,1)" font-family='"Liberation Sans","Noto Sans CJK JP",sans-serif' font-size="16" font-weight="500" text-anchor="middle" fill="#231815"  >帖</text>
<text transform="translate(1025,474.5) scale(1.0,1)" font-family='"Liberation Sans","Noto Sans CJK JP",sans-serif' font-size="25.2" font-weight="500" text-anchor="middle" fill="#231815" stroke="#231815" stroke-width="0.1" stroke-linejoin="round" >洋室</text>
<text transform="translate(999.4158,505.20000000000005) scale(0.97,1)" font-family='"Liberation Sans","Noto Sans CJK JP",sans-serif' font-size="16" font-weight="500" text-anchor="middle" fill="#231815"  >約</text>
<text transform="translate(1024.0,506.1) scale(0.88,1)" font-family='"Liberation Sans","Noto Sans CJK JP",sans-serif' font-size="24.5" font-weight="400" text-anchor="middle" fill="#231815" stroke="#231815" stroke-width="0.35" stroke-linejoin="round" >5.2</text>
<text transform="translate(1048.5842,505.20000000000005) scale(0.97,1)" font-family='"Liberation Sans","Noto Sans CJK JP",sans-serif' font-size="16" font-weight="500" text-anchor="middle" fill="#231815"  >帖</text>
<text transform="translate(878.2,210.2) scale(1,1)" font-family='"Liberation Sans","Noto Sans CJK JP",sans-serif' font-size="15.5" font-weight="500" text-anchor="middle" fill="#231815" stroke="#231815" stroke-width="0.28" stroke-linejoin="round" style="writing-mode:vertical-rl;letter-spacing:2.2px">クロー</text>
<text transform="translate(861.6,210.2) scale(1,1)" font-family='"Liberation Sans","Noto Sans CJK JP",sans-serif' font-size="15.5" font-weight="500" text-anchor="middle" fill="#231815" stroke="#231815" stroke-width="0.28" stroke-linejoin="round" style="writing-mode:vertical-rl;letter-spacing:2.2px">ゼット</text>
<text transform="translate(920.6,245) scale(1,1)" font-family='"Liberation Sans","Noto Sans CJK JP",sans-serif' font-size="11.3" font-weight="400" text-anchor="middle" fill="#231815" stroke="#231815" stroke-width="0.15" stroke-linejoin="round" >DN</text>
<text transform="translate(920.8,322.5) scale(1,1)" font-family='"Liberation Sans","Noto Sans CJK JP",sans-serif' font-size="15.5" font-weight="500" text-anchor="middle" fill="#231815" stroke="#231815" stroke-width="0.28" stroke-linejoin="round" >廊</text>
<text transform="translate(920.8,340) scale(1,1)" font-family='"Liberation Sans","Noto Sans CJK JP",sans-serif' font-size="15.5" font-weight="500" text-anchor="middle" fill="#231815" stroke="#231815" stroke-width="0.28" stroke-linejoin="round" >下</text>
<text transform="translate(1050,193.2) scale(0.82,1)" font-family='"Liberation Sans","Noto Sans CJK JP",sans-serif' font-size="15.6" font-weight="500" text-anchor="middle" fill="#231815" stroke="#231815" stroke-width="0.28" stroke-linejoin="round" >クローゼット</text>
<text transform="translate(725.4,334.1) scale(0.79,1)" font-family='"Liberation Sans","Noto Sans CJK JP",sans-serif' font-size="16.3" font-weight="500" text-anchor="middle" fill="#231815" stroke="#231815" stroke-width="0.28" stroke-linejoin="round" >クロー</text>
<text transform="translate(725.4,350.9) scale(0.79,1)" font-family='"Liberation Sans","Noto Sans CJK JP",sans-serif' font-size="16.3" font-weight="500" text-anchor="middle" fill="#231815" stroke="#231815" stroke-width="0.28" stroke-linejoin="round" >ゼット</text>
<text transform="translate(803.7,334.1) scale(0.79,1)" font-family='"Liberation Sans","Noto Sans CJK JP",sans-serif' font-size="16.3" font-weight="500" text-anchor="middle" fill="#231815" stroke="#231815" stroke-width="0.28" stroke-linejoin="round" >クロー</text>
<text transform="translate(803.7,350.9) scale(0.79,1)" font-family='"Liberation Sans","Noto Sans CJK JP",sans-serif' font-size="16.3" font-weight="500" text-anchor="middle" fill="#231815" stroke="#231815" stroke-width="0.28" stroke-linejoin="round" >ゼット</text>
<text transform="translate(919.8,464) scale(0.73,1)" font-family='"Liberation Sans","Noto Sans CJK JP",sans-serif' font-size="18" font-weight="500" text-anchor="middle" fill="#231815" stroke="#231815" stroke-width="0.28" stroke-linejoin="round" >トイレ</text>
<text transform="translate(923.5,544.3) scale(0.835,1)" font-family='"Liberation Sans","Noto Sans CJK JP",sans-serif' font-size="16" font-weight="500" text-anchor="middle" fill="#231815" stroke="#231815" stroke-width="0.28" stroke-linejoin="round" >クロー</text>
<text transform="translate(923.5,561) scale(0.835,1)" font-family='"Liberation Sans","Noto Sans CJK JP",sans-serif' font-size="16" font-weight="500" text-anchor="middle" fill="#231815" stroke="#231815" stroke-width="0.28" stroke-linejoin="round" >ゼット</text>
<text transform="translate(790,552.4) scale(0.78,1)" font-family='"Liberation Sans","Noto Sans CJK JP",sans-serif' font-size="17.8" font-weight="500" text-anchor="middle" fill="#231815" stroke="#231815" stroke-width="0.1" stroke-linejoin="round" >バルコニー</text>
<text transform="translate(997.9,604.4) scale(0.78,1)" font-family='"Liberation Sans","Noto Sans CJK JP",sans-serif' font-size="17.8" font-weight="500" text-anchor="middle" fill="#231815" stroke="#231815" stroke-width="0.1" stroke-linejoin="round" >バルコニー</text>
<text transform="translate(1096,655.8) scale(1,1)" font-family='"Liberation Sans","Noto Sans CJK JP",sans-serif' font-size="18" font-weight="400" text-anchor="middle" fill="#231815" stroke="#231815" stroke-width="0.2" stroke-linejoin="round" >2F</text>
</svg>
</body></html>
